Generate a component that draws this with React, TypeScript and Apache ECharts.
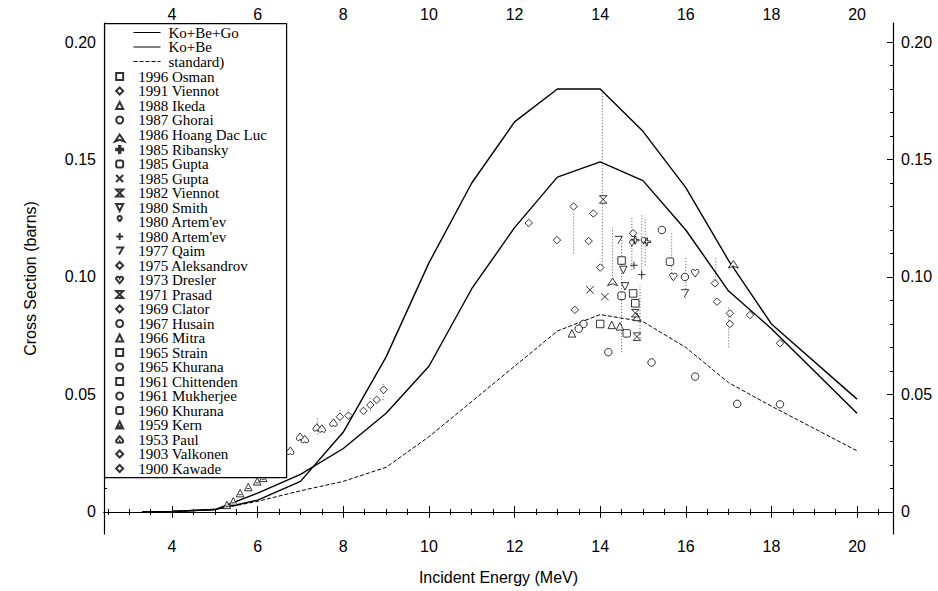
import React, { useEffect, useRef } from "react";
import * as echarts from "echarts";

// Axis ticks
const xMajorTicks = [4, 6, 8, 10, 12, 14, 16, 18, 20];
const yMajorTicks = [0, 0.05, 0.1, 0.15, 0.2];

// Calculated excitation curves (energy in MeV, cross section in barns)
const energyGrid = [3.3, 4, 5, 6, 7, 8, 9, 10, 11, 12, 13, 14, 15, 16, 17, 18, 20];
const koBeGo = [0, 0.0002, 0.001, 0.005, 0.013, 0.034, 0.066, 0.106, 0.14, 0.166, 0.18, 0.18, 0.162, 0.138, 0.107, 0.08, 0.048];
const koBe = [0, 0.0002, 0.001, 0.008, 0.016, 0.027, 0.042, 0.062, 0.095, 0.121, 0.1425, 0.149, 0.141, 0.12, 0.094, 0.078, 0.042];
const standard = [0, 0.0002, 0.001, 0.0045, 0.009, 0.013, 0.019, 0.032, 0.047, 0.062, 0.077, 0.084, 0.081, 0.07, 0.055, 0.045, 0.026];

const curveNames = ["Ko+Be+Go", "Ko+Be", "standard)"];

// Measured data sets: legend labels and [energy, cross section] points
const datasetNames = [
  "1996 Osman", "1991 Viennot", "1988 Ikeda", "1987 Ghorai", "1986 Hoang Dac Luc",
  "1985 Ribansky", "1985 Gupta", "1985 Gupta ", "1982 Viennot", "1980 Smith",
  "1980 Artem'ev", "1980 Artem'ev ", "1977 Qaim", "1975 Aleksandrov", "1973 Dresler",
  "1971 Prasad", "1969 Clator", "1967 Husain", "1966 Mitra", "1965 Strain",
  "1965 Khurana", "1961 Chittenden", "1961 Mukherjee", "1960 Khurana", "1959 Kern",
  "1953 Paul", "1903 Valkonen", "1900 Kawade",
];

const datasetPoints: number[][][] = [
  [[14.77, 0.093], [14.82, 0.0888]],
  [[13.41, 0.086], [14.0, 0.104], [14.77, 0.1186]],
  [[13.34, 0.076], [14.46, 0.079], [14.86, 0.083]],
  [[14.19, 0.068], [15.2, 0.0636], [16.22, 0.0576], [17.2, 0.046], [18.2, 0.0458]],
  [[17.11, 0.107], [14.29, 0.0995]],
  [[14.82, 0.1157], [15.09, 0.115]],
  [[14.5, 0.092], [14.62, 0.076]],
  [[13.76, 0.0945], [14.11, 0.0916]],
  [[14.07, 0.133], [14.82, 0.0846]],
  [[14.54, 0.103], [14.58, 0.096]],
  [[14.74, 0.113], [15.01, 0.114]],
  [[14.97, 0.101], [14.79, 0.105]],
  [[15.98, 0.093], [14.43, 0.1157]],
  [[13.84, 0.127], [12.99, 0.1157]],
  [[15.71, 0.1], [16.22, 0.1016]],
  [[14.86, 0.0746]],
  [[16.73, 0.0895], [17.5, 0.0838]],
  [[15.44, 0.12], [15.98, 0.1]],
  [[14.27, 0.0796]],
  [[14.0, 0.08]],
  [[13.61, 0.08]],
  [[14.5, 0.107]],
  [[13.5, 0.078]],
  [[15.63, 0.1065]],
  [[5.28, 0.003], [5.43, 0.0045], [5.59, 0.008], [5.78, 0.0106], [5.99, 0.013], [6.13, 0.0145], [6.3, 0.017]],
  [[6.76, 0.026], [6.99, 0.032], [7.1, 0.031], [7.38, 0.036], [7.5, 0.0355], [7.77, 0.038]],
  [[7.92, 0.0405], [8.12, 0.041], [8.47, 0.043], [8.63, 0.0455], [8.78, 0.0477], [8.94, 0.052], [17.03, 0.0845], [17.03, 0.08]],
  [[12.33, 0.123], [13.38, 0.13], [13.73, 0.1153], [16.68, 0.0973], [18.2, 0.0718]],
];

// Uncertainty ranges: [energy, low, high]
const errorBars = [
  [14.05, 0.105, 0.18], [13.38, 0.11, 0.128], [14.29, 0.099, 0.121], [14.5, 0.068, 0.117],
  [14.74, 0.103, 0.126], [14.97, 0.099, 0.127], [15.05, 0.105, 0.125], [14.93, 0.074, 0.096],
  [15.67, 0.099, 0.119], [16.0, 0.091, 0.109], [16.7, 0.096, 0.108], [17.0, 0.07, 0.087],
  [8.93, 0.0477, 0.0553], [7.4, 0.033, 0.04], [7.92, 0.038, 0.044], [8.63, 0.043, 0.049],
];

const markerShapes = [
  "rect",
  "diamond",
  "triangle",
  "circle",
  "arrow",
  "path://M4,0L6,0L6,4L10,4L10,6L6,6L6,10L4,10L4,6L0,6L0,4L4,4Z",
  "roundRect",
  "path://M0,0L10,10M0,10L10,0",
  "path://M0,0L10,0L0,10L10,10Z",
  "path://M0,0L5,10L10,0Z",
  "pin",
  "path://M0,5L10,5M5,0L5,10",
  "path://M0,0L10,0L4,10",
  "diamond",
  "path://M5,10L0,4A2.5,2.5 0 0 1 5,2A2.5,2.5 0 0 1 10,4Z",
  "path://M0,0L10,0L0,10L10,10Z",
  "diamond",
  "circle",
  "triangle",
  "rect",
  "circle",
  "rect",
  "circle",
  "roundRect",
  "path://M0,10L5,0L10,10Z M3,7L7,7",
  "path://M5,0L0,6A2.5,2.5 0 0 0 5,8A2.5,2.5 0 0 0 10,6Z",
  "diamond",
  "diamond",
];

const minorTicks = (from: number, to: number, step: number, majors: number[]) => {
  const out: number[] = [];
  for (let v = from; v <= to + 1e-9; v += step) {
    const r = Math.round(v * 1000) / 1000;
    if (!majors.some((m) => Math.abs(m - r) < 1e-9)) out.push(r);
  }
  return out;
};

const X_MIN = 2.41;
const X_MAX = 20.84;
const Y_MIN = -0.0094;
const Y_MAX = 0.2081;

const sans = "Liberation Sans";
const serif = "Liberation Serif";

export default function App() {
  const ref = useRef<HTMLDivElement>(null);

  useEffect(() => {
    if (!ref.current) return;
    const chart = echarts.init(ref.current, null, { renderer: "svg" });

    const xMinor = minorTicks(2.5, 20.5, 0.5, xMajorTicks);
    const yMinor = minorTicks(0.01, 0.2, 0.01, yMajorTicks);

    const axisLine = { show: true, lineStyle: { color: "#000", width: 1.2 } };
    const labelStyle = { color: "#000", fontFamily: sans, fontSize: 16 };

    const xAxisBase = (position: "bottom" | "top") => [
      {
        type: "value",
        position,
        min: X_MIN,
        max: X_MAX,
        axisLine,
        splitLine: { show: false },
        axisTick: { inside: true, length: 6, customValues: xMajorTicks, lineStyle: { color: "#000" } },
        axisLabel: {
          ...labelStyle,
          customValues: xMajorTicks,
          margin: position === "bottom" ? 4 : 1,
        },
        ...(position === "bottom"
          ? {
              name: "Incident Energy (MeV)",
              nameLocation: "middle",
              nameGap: 35,
              nameTextStyle: { color: "#000", fontFamily: sans, fontSize: 16 },
            }
          : {}),
      },
      {
        type: "value",
        position,
        min: X_MIN,
        max: X_MAX,
        axisLine: { show: false },
        splitLine: { show: false },
        axisTick: { inside: true, length: 3, customValues: xMinor, lineStyle: { color: "#000" } },
        axisLabel: { show: false },
      },
    ];

    const yFmt = (v: number) => (v === 0 ? "0" : v.toFixed(2));
    const yAxisBase = (position: "left" | "right") => [
      {
        type: "value",
        position,
        min: Y_MIN,
        max: Y_MAX,
        axisLine,
        splitLine: { show: false },
        axisTick: { inside: true, length: 6, customValues: yMajorTicks, lineStyle: { color: "#000" } },
        axisLabel: { ...labelStyle, customValues: yMajorTicks, formatter: yFmt, margin: 8 },
        ...(position === "left"
          ? {
              name: "Cross Section (barns)",
              nameLocation: "middle",
              nameGap: 66,
              nameRotate: 90,
              nameTextStyle: { color: "#000", fontFamily: sans, fontSize: 16 },
            }
          : {}),
      },
      {
        type: "value",
        position,
        min: Y_MIN,
        max: Y_MAX,
        axisLine: { show: false },
        splitLine: { show: false },
        axisTick: { inside: true, length: 3, customValues: yMinor, lineStyle: { color: "#000" } },
        axisLabel: { show: false },
      },
    ];

    const curveSeries = [koBeGo, koBe, standard].map((vals, i) => ({
      name: curveNames[i],
      type: "line",
      xAxisIndex: 0,
      yAxisIndex: 0,
      symbol: "none",
      data: energyGrid.map((e, k) => [e, vals[k]]),
      lineStyle: {
        color: "#000",
        width: i === 2 ? 1 : 1.4,
        type: i === 2 ? [4, 2] : "solid",
      },
      itemStyle: { color: "#000" },
      z: 3,
    }));

    const scatterSeries = datasetNames.map((name, i) => ({
      name,
      type: "scatter",
      xAxisIndex: 0,
      yAxisIndex: 0,
      symbol: markerShapes[i],
      symbolSize: 7.5,
      data: datasetPoints[i],
      itemStyle: { color: "#fff", borderColor: "#000", borderWidth: 1 },
      z: 4,
    }));

    const errorSeries = {
      type: "custom",
      xAxisIndex: 0,
      yAxisIndex: 0,
      data: errorBars,
      encode: { x: 0, y: [1, 2] },
      renderItem: (_params: any, api: any) => {
        const p1 = api.coord([api.value(0), api.value(1)]);
        const p2 = api.coord([api.value(0), api.value(2)]);
        return {
          type: "line",
          shape: { x1: p1[0], y1: p1[1], x2: p2[0], y2: p2[1] },
          style: { stroke: "#555", lineWidth: 1, lineDash: [1, 2] },
        };
      },
      z: 2,
    };

    const legendText = { color: "#000", fontFamily: serif, fontSize: 15 };

    chart.setOption({
      animation: false,
      backgroundColor: "#fff",
      grid: { left: 104, right: 45, top: 23, bottom: 57 },
      xAxis: [...xAxisBase("bottom"), ...xAxisBase("top")],
      yAxis: [...yAxisBase("left"), ...yAxisBase("right")],
      graphic: [
        {
          type: "rect",
          left: 104,
          top: 23,
          shape: { width: 182, height: 454 },
          style: { fill: "#fff", stroke: "#000", lineWidth: 1.2 },
          z: 5,
        },
      ],
      legend: [
        {
          data: curveNames,
          orient: "vertical",
          left: 133,
          top: 25,
          padding: 0,
          itemGap: -0.5,
          itemWidth: 27,
          itemHeight: 8,
          selectedMode: false,
          itemStyle: { opacity: 0 },
          lineStyle: { width: 1 },
          textStyle: { ...legendText, padding: [0, 0, 0, 3] },
          z: 8,
        },
        {
          data: datasetNames,
          orient: "vertical",
          left: 114,
          top: 69,
          padding: 0,
          itemGap: -0.5,
          itemWidth: 7,
          itemHeight: 7,
          selectedMode: false,
          textStyle: { ...legendText, padding: [0, 0, 0, 10] },
          z: 8,
        },
      ],
      series: [...curveSeries, errorSeries, ...scatterSeries],
    });

    return () => chart.dispose();
  }, []);

  return (
    <div
      ref={ref}
      style={{ position: "fixed", left: 0, top: 0, width: 938, height: 591, background: "#fff" }}
    />
  );
}
